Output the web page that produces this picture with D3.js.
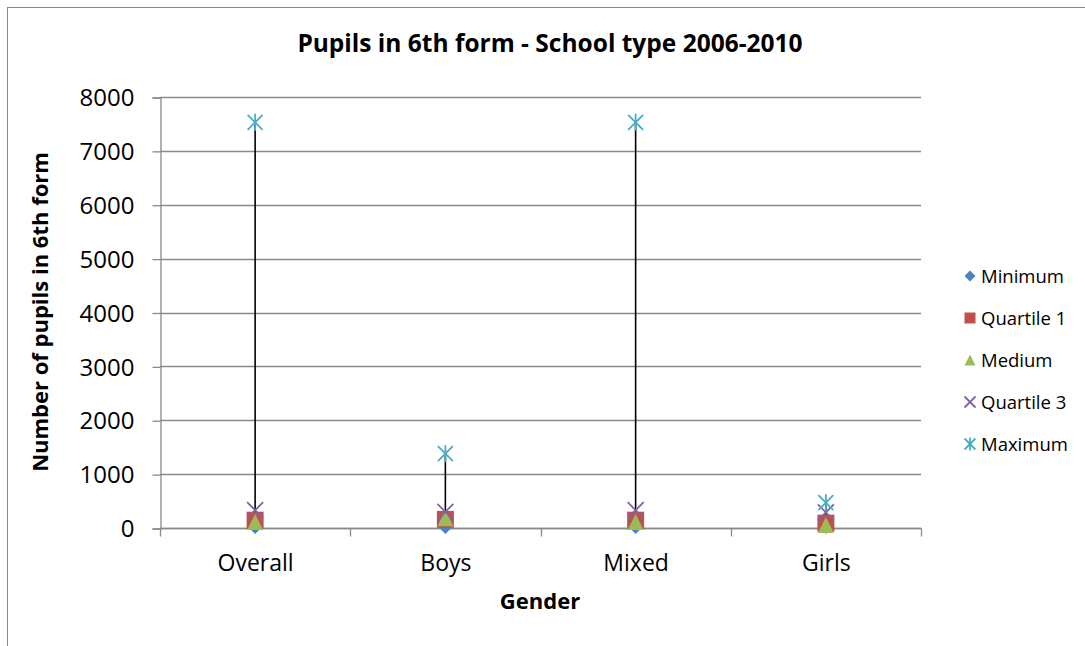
<!DOCTYPE html>
<html>
<head>
<meta charset="utf-8">
<script src="https://cdn.jsdelivr.net/npm/d3@7"></script>
<style>
  html, body { margin: 0; padding: 0; background: #fff; }
  svg { display: block; font-family: "Open Sans", Lato, sans-serif; }
</style>
</head>
<body>
<svg id="chart" width="1085" height="646"></svg>
<script>
// School-type categories and summary statistics (pupils in 6th form)
const categories = ["Overall", "Boys", "Mixed", "Girls"];
const minimum   = [0, 0, 0, 0];
const quartile1 = [145, 160, 145, 90];
const median    = [110, 180, 110, 55];
const quartile3 = [330, 300, 330, 290];
const maximum   = [7530, 1380, 7530, 470];
const yTicks    = [0, 1000, 2000, 3000, 4000, 5000, 6000, 7000, 8000];

const seriesNames  = ["Minimum", "Quartile 1", "Medium", "Quartile 3", "Maximum"];
const seriesValues = [minimum, quartile1, median, quartile3, maximum];
const seriesColors = ["#4F81BD", "#C0504D", "#9BBB59", "#8064A2", "#4BACC6"];
const seriesShapes = ["diamond", "square", "triangle", "x", "star"];

const svg = d3.select("#chart");
const plot = { left: 160, right: 921, top: 97, bottom: 528 };
const FONT = "'Open Sans', sans-serif";

// outer chart frame
svg.append("rect")
  .attr("x", 7.5).attr("y", 7.5)
  .attr("width", 1090).attr("height", 650)
  .attr("fill", "#fff").attr("stroke", "#888").attr("stroke-width", 1);

const x = d3.scaleBand().domain(categories).range([plot.left, plot.right]);
const y = d3.scaleLinear().domain([0, 8000]).range([plot.bottom, plot.top]);

// horizontal gridlines
svg.append("g").selectAll("line").data(yTicks).join("line")
  .attr("x1", plot.left).attr("x2", plot.right)
  .attr("y1", d => Math.round(y(d)) + 0.5).attr("y2", d => Math.round(y(d)) + 0.5)
  .attr("stroke", "#8a8a8a").attr("stroke-width", 1.3);

// y axis
const yAxis = svg.append("g")
  .attr("transform", `translate(${plot.left + 0.5},0.5)`)
  .call(d3.axisLeft(y).tickValues(yTicks).tickSize(8).tickPadding(18).tickFormat(d3.format("d")));
yAxis.select(".domain").attr("stroke", "#8a8a8a").attr("stroke-width", 1.3);
yAxis.selectAll(".tick line").attr("stroke", "#8a8a8a").attr("stroke-width", 1.3);
yAxis.selectAll("text").attr("font-size", 24).attr("fill", "#000")
  .attr("font-family", FONT).attr("dy", "0.34em");

// x axis with ticks between categories
const xAxisG = svg.append("g").attr("transform", `translate(0.5,${plot.bottom + 0.5})`);
xAxisG.append("line").attr("x1", plot.left).attr("x2", plot.right)
  .attr("stroke", "#8a8a8a").attr("stroke-width", 1.3);
const boundaries = categories.map(c => x(c)).concat([plot.right]);
xAxisG.selectAll("line.tk").data(boundaries).join("line").attr("class", "tk")
  .attr("x1", d => Math.round(d)).attr("x2", d => Math.round(d))
  .attr("y1", 0).attr("y2", 8)
  .attr("stroke", "#8a8a8a").attr("stroke-width", 1.3);
xAxisG.selectAll("text").data(categories).join("text")
  .attr("x", d => x(d) + x.bandwidth() / 2).attr("y", 42.5)
  .attr("text-anchor", "middle").attr("font-size", 23).attr("fill", "#000")
  .text(d => d);

// high-low lines from minimum to maximum
const cx = c => x(c) + x.bandwidth() / 2;
svg.append("g").selectAll("line").data(categories).join("line")
  .attr("x1", cx).attr("x2", cx)
  .attr("y1", (c, i) => y(minimum[i])).attr("y2", (c, i) => y(maximum[i]))
  .attr("stroke", "#000").attr("stroke-width", 1.6);

// marker path generators
function markerPath(shape, s) {
  const h = s / 2;
  switch (shape) {
    case "diamond": return `M0,${-h}L${h},0L0,${h}L${-h},0Z`;
    case "square": return `M${-h},${-h}H${h}V${h}H${-h}Z`;
    case "triangle": return `M0,${-h}L${h},${h}L${-h},${h}Z`;
    case "x": return `M${-h},${-h}L${h},${h}M${h},${-h}L${-h},${h}`;
    case "star": return `M${-h},${-h}L${h},${h}M${h},${-h}L${-h},${h}M0,${-h - 1}V${h + 1}`;
  }
}
const markerSize = { diamond: 12, square: 17, triangle: 16, x: 16, star: 15 };
function drawMarker(g, shape, color, s) {
  const p = g.append("path").attr("d", markerPath(shape, s));
  if (shape === "x" || shape === "star") {
    p.attr("fill", "none").attr("stroke", color).attr("stroke-width", 1.8);
  } else {
    p.attr("fill", color).attr("stroke", "none");
  }
}

// data markers
seriesValues.forEach((vals, si) => {
  categories.forEach((c, ci) => {
    const g = svg.append("g").attr("transform", `translate(${cx(c)},${y(vals[ci])})`);
    drawMarker(g, seriesShapes[si], seriesColors[si], markerSize[seriesShapes[si]]);
  });
});

// legend
const legend = svg.append("g");
seriesNames.forEach((name, i) => {
  const ly = 276 + i * 42;
  const g = legend.append("g").attr("transform", `translate(970,${ly})`);
  const shp = seriesShapes[i];
  drawMarker(g, shp, seriesColors[i], 11);
  g.append("text").attr("x", 11).attr("y", 6.5)
    .attr("font-size", 18.5).attr("fill", "#000").text(name);
});

// titles
svg.append("text").attr("x", 550).attr("y", 52)
  .attr("text-anchor", "middle").attr("font-size", 24.5).attr("font-weight", "bold")
  .attr("fill", "#000").text("Pupils in 6th form - School type 2006-2010");
svg.append("text").attr("x", 540).attr("y", 609)
  .attr("text-anchor", "middle").attr("font-size", 22).attr("font-weight", "bold")
  .attr("fill", "#000").text("Gender");
svg.append("text")
  .attr("transform", "translate(48,312) rotate(-90)")
  .attr("text-anchor", "middle").attr("font-size", 22).attr("font-weight", "bold")
  .attr("fill", "#000").text("Number of pupils in 6th form");
</script>
</body>
</html>
